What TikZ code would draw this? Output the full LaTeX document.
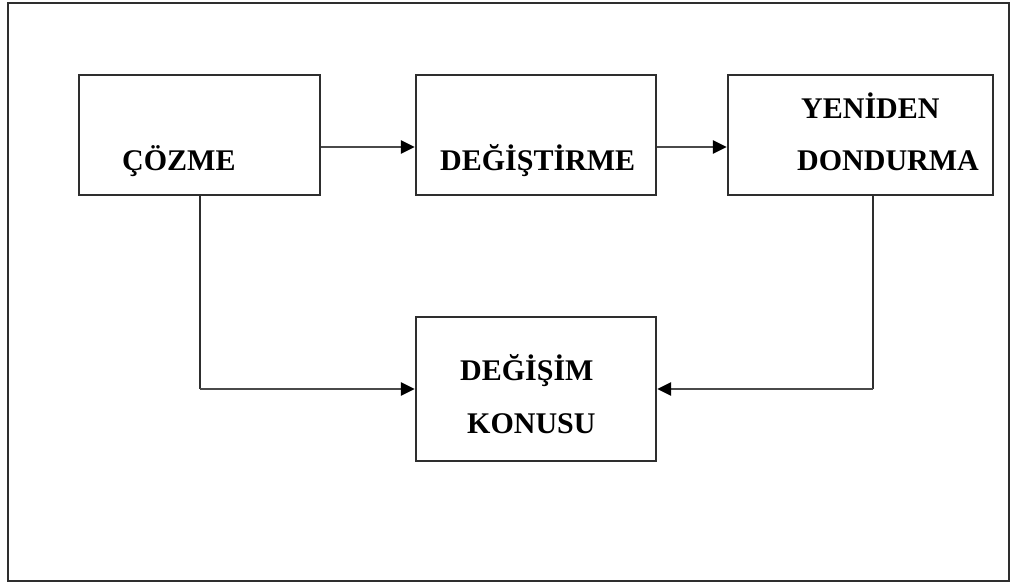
\documentclass[tikz,border=0pt]{standalone}
\usepackage{fontspec}
\setmainfont{Liberation Serif}
\usetikzlibrary{arrows.meta}
\definecolor{framegray}{HTML}{2E2E2E}
\definecolor{linegray}{HTML}{4A4A4A}
\begin{document}
\begin{tikzpicture}[x=1pt,y=-1pt,
  stagebox/.style={draw=framegray,line width=2.2pt,rectangle,inner sep=0pt,minimum width=#1},
  lbl/.style={anchor=base west,inner sep=0pt,font=\bfseries\fontsize{30}{30}\selectfont,text=black},
  arr/.style={draw=linegray,line width=2.6pt,-{Triangle[length=14pt,width=13pt,color=black]}},
  link/.style={draw=framegray,line width=2pt}]
  \useasboundingbox (0,0) rectangle (1011,583);
  % outer frame
  \draw[framegray,line width=2.4pt] (8,3) rectangle (1009,581);
  % stage boxes
  \node[stagebox=241pt,minimum height=120pt] (coz) at (199.5,135) {};
  \node[stagebox=240pt,minimum height=120pt] (deg) at (536,135) {};
  \node[stagebox=265pt,minimum height=120pt] (yen) at (860.5,135) {};
  \node[stagebox=240pt,minimum height=144pt] (kon) at (536,389) {};
  % labels
  \node[lbl] (tcoz) at (122,170) {ÇÖZME};
  \node[lbl] (tdeg) at (440,170) {DEĞİŞTİRME};
  \node[lbl] (tyen1) at (801,118) {YENİDEN};
  \node[lbl] (tyen2) at (797,170) {DONDURMA};
  \node[lbl] (tkon1) at (460,380) {DEĞİŞİM};
  \node[lbl] (tkon2) at (467,433) {KONUSU};
  % connectors
  \draw[arr] (coz.east |- 0,147) -- (deg.west |- 0,147);
  \draw[arr] (deg.east |- 0,147) -- (yen.west |- 0,147);
  \draw[link] (coz.south) -- (coz.south |- kon.west);
  \draw[arr] (coz.south |- kon.west) -- (kon.west);
  \coordinate (yfoot) at (873,195);
  \draw[link] (yfoot) -- (yfoot |- kon.east);
  \draw[arr] (yfoot |- kon.east) -- (kon.east);
\end{tikzpicture}
\end{document}
